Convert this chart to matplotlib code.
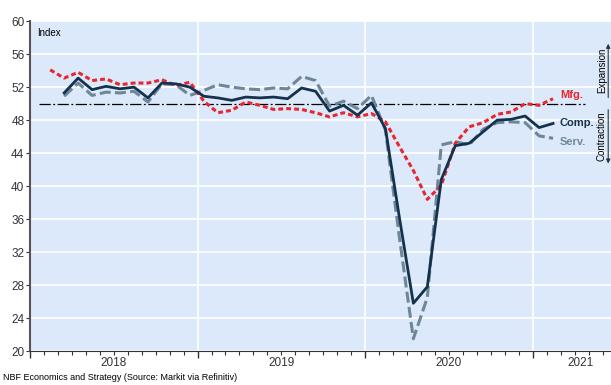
import matplotlib.pyplot as plt
import numpy as np

plt.rcParams["font.family"] = ["Liberation Sans", "DejaVu Sans"]

# monthly PMI readings; month index 0 = Jan 2018
mfg_start = 1  # Feb 2018
mfg = [54.1, 53.1, 53.8, 52.8, 53.0, 52.3, 52.5, 52.5, 52.9, 52.2, 52.6,
       50.3, 48.9, 49.2, 50.2, 49.8, 49.3, 49.4, 49.3, 48.9, 48.4, 48.9, 48.4,
       48.8, 47.8, 44.8, 41.9, 38.4, 40.1, 45.2, 47.2, 47.7, 48.7, 49.0, 50.0,
       49.8, 50.6]

comp_start = 2  # Mar 2018
comp = [51.3, 53.1, 51.7, 52.1, 51.8, 52.0, 50.7, 52.5, 52.4, 52.0,
        50.9, 50.7, 50.4, 50.8, 50.7, 50.8, 50.6, 51.9, 51.5, 49.1, 49.8, 48.6,
        50.1, 47.0, 36.2, 25.8, 27.8, 40.8, 44.9, 45.2, 46.6, 48.0, 48.1, 48.5,
        47.1, 47.6]

serv = [50.9, 52.5, 51.0, 51.4, 51.3, 51.5, 50.2, 52.4, 52.3, 51.0,
        51.6, 52.3, 52.0, 51.8, 51.7, 51.9, 51.8, 53.3, 52.8, 49.7, 50.3, 49.4,
        51.0, 46.8, 33.8, 21.5, 26.5, 45.0, 45.4, 45.0, 46.9, 47.7, 47.8, 47.7,
        46.1, 45.8]

years = ["2018", "2019", "2020", "2021"]
year_label_pos = [6, 18, 30, 39.4]
yticks = [20, 24, 28, 32, 36, 40, 44, 48, 52, 56, 60]

RED = "#e8262e"
NAVY = "#14324d"
GREY = "#6e8797"
BG = "#dce9fa"

fig = plt.figure(figsize=(6.11, 3.85), dpi=100)
ax = fig.add_axes([0.049, 0.088, 0.951, 0.857])
ax.set_facecolor(BG)

off = 0.45
x_mfg = np.arange(len(mfg)) + mfg_start + off
x_comp = np.arange(len(comp)) + comp_start + off

ax.axhline(50, xmin=0.015, xmax=0.955, color="black", lw=0.9,
           dashes=(9, 2, 1.5, 2), zorder=2)
ax.plot(x_comp, serv, color=GREY, lw=2.2, dashes=(3.6, 1.4), zorder=3)
ax.plot(x_mfg, mfg, color=RED, lw=2.2, dashes=(1.6, 1.0), zorder=4)
ax.plot(x_comp, comp, color=NAVY, lw=2.0, zorder=5)

ax.set_xlim(0, 41.6)
ax.set_ylim(20, 60)
ax.set_yticks(yticks)
ax.set_yticklabels([str(v) for v in yticks], fontsize=8.5, color="#333333")
ax.grid(axis="y", color="white", lw=1.2)
for k in range(1, 4):
    ax.axvline(12 * k, color="white", lw=1.2, zorder=1)
ax.set_axisbelow(True)

ax.set_xticks(np.arange(0, 42, 1), minor=True)
ax.set_xticks([0, 12, 24, 36])
ax.set_xticklabels([])
for yr, pos in zip(years, year_label_pos):
    ax.text(pos, -0.018, yr, transform=ax.get_xaxis_transform(),
            ha="center", va="top", fontsize=8.5, color="#333333")
ax.tick_params(axis="x", which="major", length=5, width=1, color="#333333")
ax.tick_params(axis="x", which="minor", length=3, width=0.8, color="#333333")
ax.tick_params(axis="y", length=3, width=0.8, color="#333333", pad=1)

for s in ["top", "right"]:
    ax.spines[s].set_visible(False)
ax.spines["left"].set_color("#555555")
ax.spines["left"].set_linewidth(1.5)
ax.spines["bottom"].set_color("#333333")

ax.text(0.5, 58.6, "Index", fontsize=7, va="center")
ax.text(38.0, 51.1, "Mfg.", color=RED, fontsize=8, fontweight="bold", va="center")
ax.text(37.9, 47.6, "Comp.", color=NAVY, fontsize=8, fontweight="bold", va="center")
ax.text(37.9, 45.3, "Serv.", color=GREY, fontsize=8, fontweight="bold", va="center")

# expansion / contraction arrows on the right
ax.annotate("", xy=(41.4, 57.6), xytext=(41.4, 50.4),
            arrowprops=dict(arrowstyle="-|>", color="#333333", lw=0.8,
                            mutation_scale=6), annotation_clip=False)
ax.annotate("", xy=(41.4, 42.4), xytext=(41.4, 49.6),
            arrowprops=dict(arrowstyle="-|>", color="#333333", lw=0.8,
                            mutation_scale=6), annotation_clip=False)
ax.text(40.95, 54.0, "Expansion", rotation=90, fontsize=7, ha="center", va="center")
ax.text(40.95, 46.0, "Contraction", rotation=90, fontsize=7, ha="center", va="center")

fig.text(0.005, 0.02, "NBF Economics and Strategy (Source: Markit via Refinitiv)",
         fontsize=6.5, va="center")

fig.savefig("out.png", dpi=100)
